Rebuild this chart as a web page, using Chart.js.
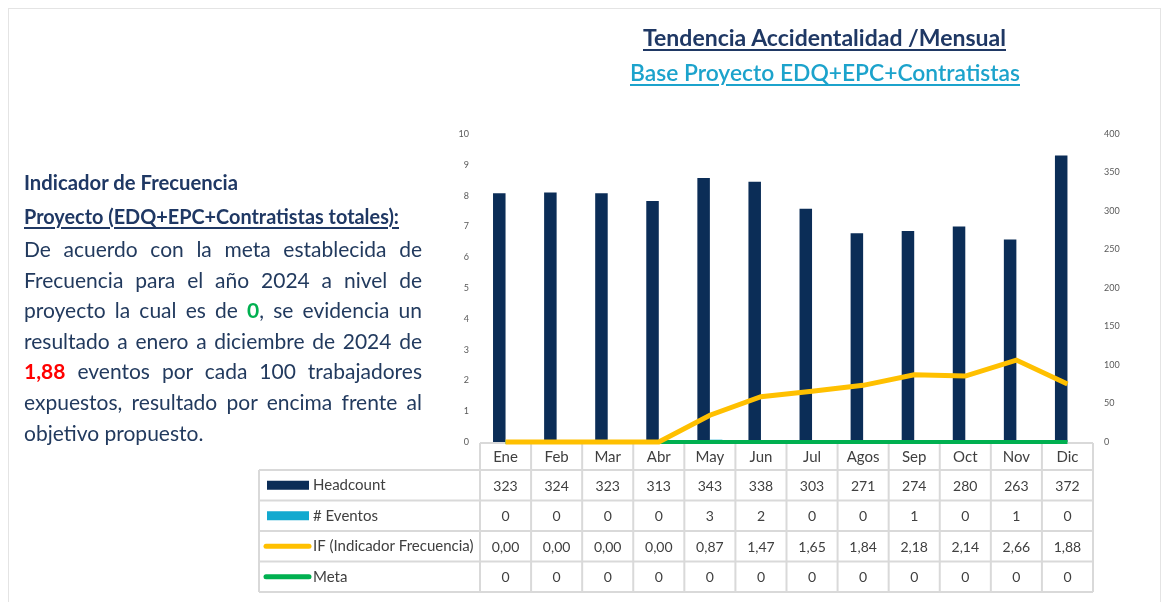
<!DOCTYPE html>
<html lang="es">
<head>
<meta charset="utf-8">
<title>Tendencia Accidentalidad / Mensual</title>
<script src="https://cdn.jsdelivr.net/npm/chart.js@4.4.1/dist/chart.umd.min.js"></script>
<style>
  html, body { margin: 0; padding: 0; background: #fff; }
  #wrap { position: relative; width: 1170px; height: 602px; overflow: hidden; font-family: Lato, "Open Sans", sans-serif; }
  #frame { position: absolute; left: 8px; top: 8px; width: 1153px; height: 620px; border: 1px solid #e4e4e4; box-sizing: border-box; }
  canvas { position: absolute; left: 0; top: 0; }
  .t { position: absolute; white-space: nowrap; transform-origin: 0 0; }
  .title { left: 643px; top: 25px; font: 700 22px/26.4px Lato, sans-serif; color: #1F3864;
           text-decoration: underline; text-decoration-thickness: 2px; text-underline-offset: 3px; }
  .subtitle { left: 630px; top: 60px; font: 600 22px/26.4px Lato, sans-serif; color: #1CA3CC;
              text-decoration: underline; text-decoration-thickness: 2px; text-underline-offset: 3px; }
  .h { left: 24px; font: 700 20px/24px Lato, sans-serif; color: #1F3864; }
  .u { text-decoration: underline; text-decoration-thickness: 1.5px; text-underline-offset: 3px; }
  .p { left: 24px; font: 400 21px/25.2px Lato, sans-serif; color: #223A5E; }
  .green { color: #00B050; font-weight: 700; }
  .red { color: #FF0000; font-weight: 700; }
</style>
</head>
<body>
<div id="wrap">
  <div id="frame"></div>
  <canvas id="chart" width="1170" height="602"></canvas>

  <div class="t title" data-w="363">Tendencia Accidentalidad /Mensual</div>
  <div class="t subtitle" data-w="390">Base Proyecto EDQ+EPC+Contratistas</div>

  <div class="t h" style="top:169.6px" data-w="214">Indicador de Frecuencia</div>
  <div class="t h u" style="top:203.6px" data-w="375">Proyecto (EDQ+EPC+Contratistas totales):</div>

  <div class="t p" style="top:236px" data-w="398" data-justify="1">De acuerdo con la meta establecida de</div>
  <div class="t p" style="top:266.6px" data-w="398" data-justify="1">Frecuencia para el año 2024 a nivel de</div>
  <div class="t p" style="top:297.2px" data-w="398" data-justify="1">proyecto la cual es de <span class="green">0</span>, se evidencia un</div>
  <div class="t p" style="top:327.8px" data-w="398" data-justify="1">resultado a enero a diciembre de 2024 de</div>
  <div class="t p" style="top:358.4px" data-w="398" data-justify="1"><span class="red">1,88</span> eventos por cada 100 trabajadores</div>
  <div class="t p" style="top:389px" data-w="398" data-justify="1">expuestos, resultado por encima frente al</div>
  <div class="t p" style="top:419.6px">objetivo propuesto.</div>
</div>

<script>
// Monthly figures for 2024
const months = ['Ene', 'Feb', 'Mar', 'Abr', 'May', 'Jun', 'Jul', 'Agos', 'Sep', 'Oct', 'Nov', 'Dic'];
const headcount = [323, 324, 323, 313, 343, 338, 303, 271, 274, 280, 263, 372];
const eventos = [0, 0, 0, 0, 3, 2, 0, 0, 1, 0, 1, 0];
const indicadorFrecuencia = [0, 0, 0, 0, 0.87, 1.47, 1.65, 1.84, 2.18, 2.14, 2.66, 1.88];
const meta = [0, 0, 0, 0, 0, 0, 0, 0, 0, 0, 0, 0];

// Axis ranges
const ifAxis = { min: 0, max: 10, step: 1 };
const headcountAxis = { min: 0, max: 400, step: 50 };

const COLORS = {
  headcount: '#0B2D57',
  eventos: '#12A9CF',
  ifLine: '#FFC000',
  meta: '#00B050',
  grid: '#D9D9D9',
  text: '#404040',
  tick: '#595959'
};

const fmtInt = v => String(v);
const fmtDec = v => v.toFixed(2).replace('.', ',');

// Rows of the data table under the plot
const tableRows = [
  { label: 'Headcount', values: headcount, fmt: fmtInt, swatch: 'bar', color: COLORS.headcount },
  { label: '# Eventos', values: eventos, fmt: fmtInt, swatch: 'bar', color: COLORS.eventos },
  { label: 'IF (Indicador Frecuencia)', values: indicadorFrecuencia, fmt: fmtDec, swatch: 'line', color: COLORS.ifLine },
  { label: 'Meta', values: meta, fmt: fmtInt, swatch: 'line', color: COLORS.meta }
];

// Table is painted before the datasets so the series lines sit on top of its border
const dataTablePlugin = {
  id: 'dataTable',
  beforeDatasetsDraw(chart) {
    const ctx = chart.ctx;
    const area = chart.chartArea;
    const xs = chart.scales.x;
    const n = months.length;
    const colW = (area.right - area.left) / n;
    const top = area.bottom + 1;
    const headBottom = top + 27;
    const rowH = 30.5;
    const bottom = headBottom + rowH * tableRows.length;
    const labelLeft = 259;

    ctx.save();
    ctx.strokeStyle = COLORS.grid;
    ctx.lineWidth = 2;
    ctx.beginPath();
    ctx.moveTo(area.left, top); ctx.lineTo(area.right, top);
    for (let k = 0; k <= tableRows.length; k++) {
      const y = headBottom + k * rowH;
      ctx.moveTo(labelLeft, y); ctx.lineTo(area.right, y);
    }
    for (let i = 0; i <= n; i++) {
      const x = area.left + i * colW;
      ctx.moveTo(x, top); ctx.lineTo(x, bottom);
    }
    ctx.moveTo(labelLeft, headBottom); ctx.lineTo(labelLeft, bottom);
    ctx.stroke();

    ctx.fillStyle = COLORS.text;
    ctx.textBaseline = 'middle';
    ctx.textAlign = 'center';
    ctx.font = '15px Lato, sans-serif';
    months.forEach((m, i) => {
      ctx.fillText(m, xs.getPixelForValue(i), (top + headBottom) / 2 + 1);
    });

    tableRows.forEach((row, k) => {
      const cy = headBottom + k * rowH + rowH / 2;
      // legend key
      if (row.swatch === 'bar') {
        ctx.fillStyle = row.color;
        ctx.fillRect(267, cy - 4.5, 42, 9);
      } else {
        ctx.strokeStyle = row.color;
        ctx.lineWidth = 5;
        ctx.lineCap = 'round';
        ctx.beginPath();
        ctx.moveTo(266, cy); ctx.lineTo(309, cy);
        ctx.stroke();
      }
      ctx.fillStyle = COLORS.text;
      ctx.textAlign = 'left';
      ctx.font = '15px Lato, sans-serif';
      ctx.fillText(row.label, 313, cy);
      ctx.textAlign = 'center';
      ctx.font = '14px Lato, sans-serif';
      row.values.forEach((v, i) => {
        ctx.fillText(row.fmt(v), xs.getPixelForValue(i), cy + 1);
      });
    });
    ctx.restore();
  }
};

const tickFont = { family: 'Lato, sans-serif', size: 9 };

new Chart(document.getElementById('chart'), {
  type: 'bar',
  data: {
    labels: months,
    datasets: [
      { type: 'line', label: 'IF (Indicador Frecuencia)', data: indicadorFrecuencia, yAxisID: 'y',
        borderColor: COLORS.ifLine, backgroundColor: COLORS.ifLine, borderWidth: 5,
        pointRadius: 0, tension: 0, order: 0, clip: false },
      { type: 'line', label: 'Meta', data: meta, yAxisID: 'y',
        borderColor: COLORS.meta, backgroundColor: COLORS.meta, borderWidth: 4,
        pointRadius: 0, tension: 0, order: 1, clip: false },
      { label: 'Headcount', data: headcount, yAxisID: 'y1', backgroundColor: COLORS.headcount,
        barPercentage: 1, categoryPercentage: 0.49, order: 2 },
      { label: '# Eventos', data: eventos, yAxisID: 'y1', backgroundColor: COLORS.eventos,
        barPercentage: 1, categoryPercentage: 0.49, order: 2 }
    ]
  },
  options: {
    responsive: false,
    animation: false,
    devicePixelRatio: 1,
    layout: { padding: { left: 440, right: 37, top: 134, bottom: 160 } },
    plugins: { legend: { display: false }, tooltip: { enabled: false } },
    scales: {
      x: { display: false },
      y: {
        position: 'left', min: ifAxis.min, max: ifAxis.max,
        grid: { display: false, drawTicks: false }, border: { display: false },
        ticks: { stepSize: ifAxis.step, padding: 11, color: COLORS.tick, font: tickFont },
        afterFit(s) { s.width = 40; }
      },
      y1: {
        position: 'right', min: headcountAxis.min, max: headcountAxis.max,
        grid: { display: false, drawTicks: false }, border: { display: false },
        ticks: { stepSize: headcountAxis.step, padding: 11, color: COLORS.tick, font: tickFont },
        afterFit(s) { s.width = 40; }
      }
    }
  },
  plugins: [dataTablePlugin]
});

// Stretch each text line to its column width (justified lines use word spacing)
function fitText() {
  document.querySelectorAll('[data-w]').forEach(el => {
    const target = +el.dataset.w;
    el.style.wordSpacing = '0px';
    el.style.transform = 'none';
    const w = el.getBoundingClientRect().width;
    if (el.dataset.justify && w < target) {
      const spaces = (el.textContent.match(/ /g) || []).length;
      el.style.wordSpacing = ((target - w) / spaces) + 'px';
    } else {
      el.style.transform = 'scaleX(' + (target / w) + ')';
    }
  });
}
fitText();
if (document.fonts && document.fonts.ready) document.fonts.ready.then(fitText);
</script>
</body>
</html>
